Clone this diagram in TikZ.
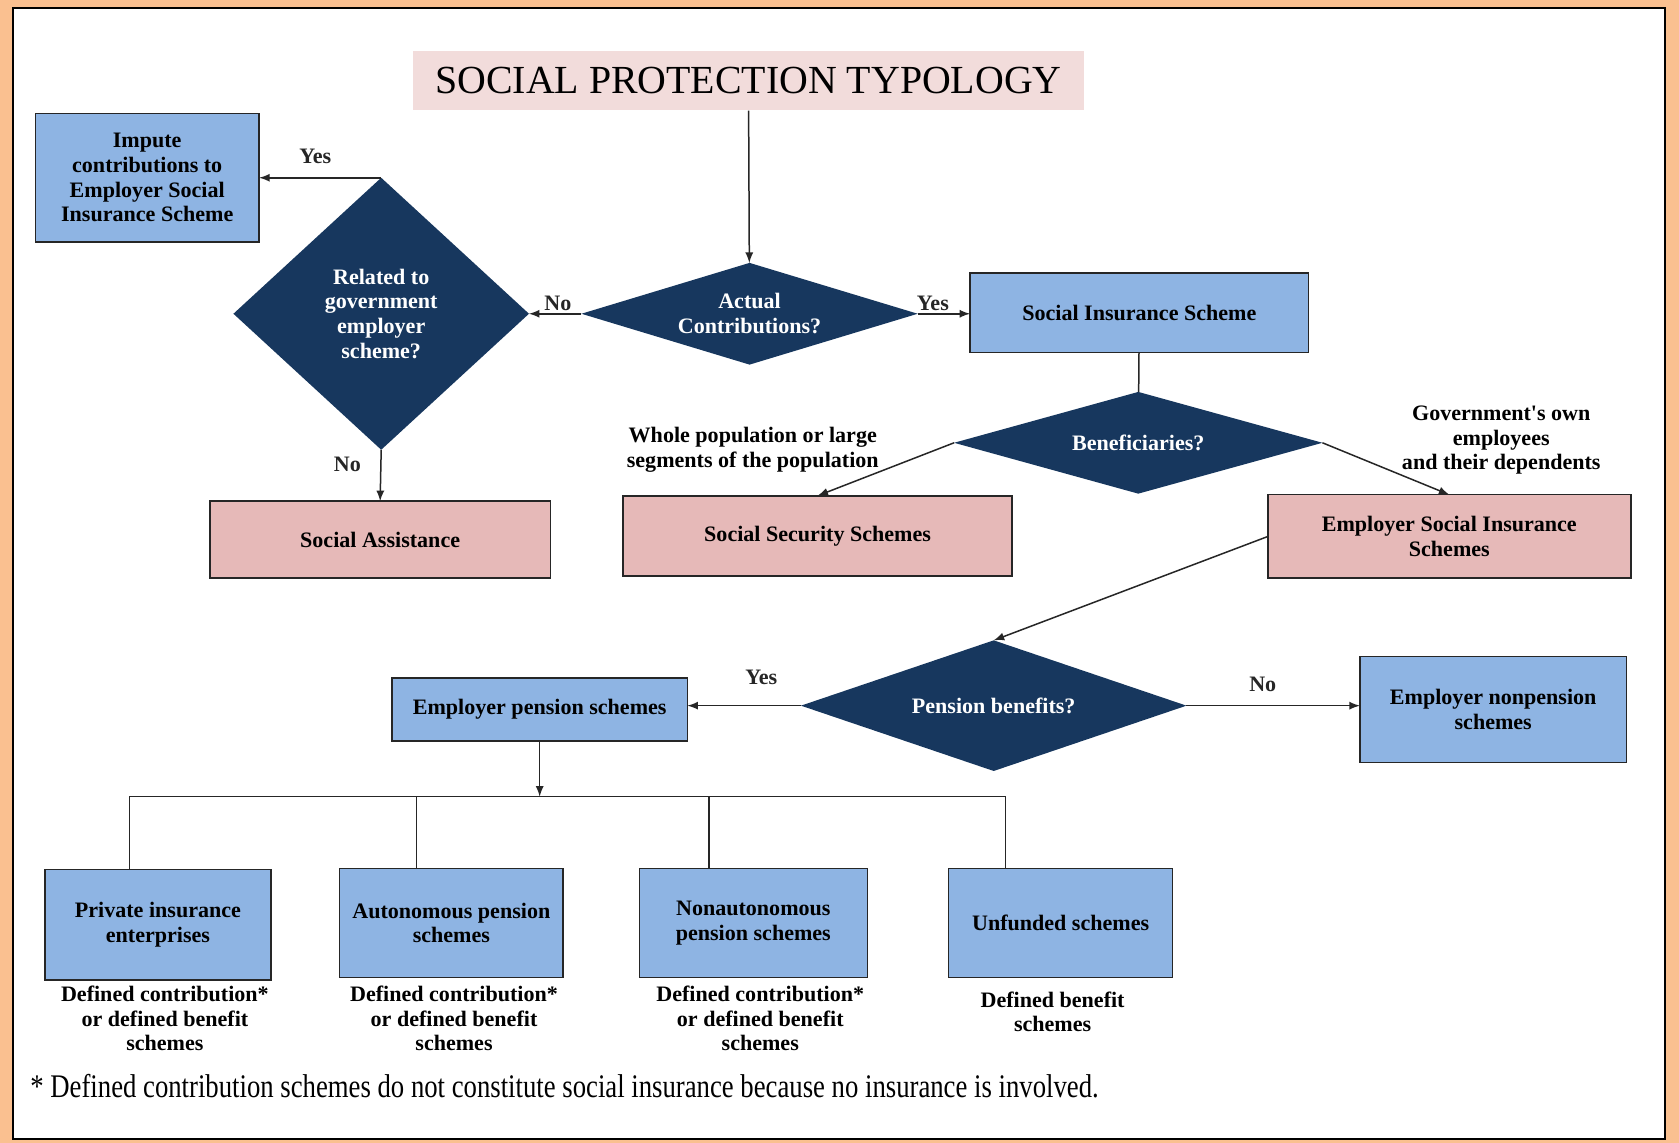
\documentclass[tikz,border=0pt]{standalone}
\usepackage{fontspec}
\setmainfont{Liberation Serif}
\newfontfamily\spnotefamily{Liberation Serif}[FakeStretch=0.81]
\usepackage{xcolor}
\usetikzlibrary{shapes.geometric,arrows,positioning,calc}

\definecolor{frameorange}{HTML}{FAC090}
\definecolor{boxblue}{HTML}{8EB4E3}
\definecolor{boxpink}{HTML}{E6B9B8}
\definecolor{titlepink}{HTML}{F2DCDB}
\definecolor{navy}{HTML}{17375E}

\newcommand{\spfont}{\fontsize{10.3}{11.5}\selectfont\bfseries}
\newcommand{\sptitlefont}{\fontsize{18.6}{22}\selectfont}
\newcommand{\spnotefont}{\spnotefamily\fontsize{15.4}{18}\selectfont}

\tikzset{
  box/.style={draw=black!85, line width=0.7pt, align=center, inner sep=2pt, outer sep=0pt, font=\spfont},
  bluebox/.style={box, fill=boxblue},
  pinkbox/.style={box, fill=boxpink},
  question/.style={diamond, fill=navy, text=white, align=center, inner sep=0pt, outer sep=0pt, font=\spfont},
  lbl/.style={align=center, inner sep=1pt, font=\spfont},
  link/.style={line width=0.7pt, black!85}
}

\begin{document}
\begin{tikzpicture}[>=latex, x=0.5pt, y=-0.5pt]
    \useasboundingbox (0,0) rectangle (1568,1067);
    % frame
    \fill[frameorange] (0,0) rectangle (1568,1067);
    \filldraw[fill=white, draw=black, line width=1pt] (12,7.5) rectangle (1555,1063.5);

    % title
    \node[fill=titlepink, minimum width=313pt, minimum height=27.5pt, inner sep=0pt, font=\sptitlefont] (title) at (699,75.5) {SOCIAL PROTECTION TYPOLOGY};

    % first questions
    \node[question, minimum width=157pt, minimum height=47.5pt, shape aspect=3.3] (actual) at (700,293) {Actual\\Contributions?};
    \node[question, minimum width=138pt, minimum height=127pt, shape aspect=1.09] (related) at (356,293) {Related to\\government\\employer\\scheme?};
    \node[bluebox, minimum width=158pt, minimum height=37pt] (sis) at (1064,292) {Social Insurance Scheme};
    \node[bluebox, minimum width=104.5pt, minimum height=60pt] (impute) at (137.5,166) {Impute\\contributions to\\Employer Social\\Insurance Scheme};
    \node[pinkbox, minimum width=159pt, minimum height=36pt] (assist) at (355,504) {Social Assistance};

    \draw[link, ->] (title) -- (actual);
    \draw[link, ->] (actual.east) -- node[lbl, above, pos=0.29] (yesA) {Yes} (actual.east -| sis.west);
    \draw[link, ->] (actual.west) -- node[lbl, above, pos=0.45] (noA) {No} (related.east);
    \draw[link, ->] (related.north) -- node[lbl, above=5pt, pos=0.54] (yesR) {Yes} (impute.east);
    \draw[link, ->] (related.south) -- node[lbl, left=8pt, pos=0.28] (noR) {No} (assist.north);

    % beneficiaries
    \node[question, minimum width=172pt, minimum height=47.5pt, shape aspect=3.6] (benef) at (1063,413.5) {Beneficiaries?};
    \node[pinkbox, minimum width=181.5pt, minimum height=37.5pt] (secur) at (763.5,500.5) {Social Security Schemes};
    \node[pinkbox, minimum width=169.5pt, minimum height=39pt] (esis) at (1353.5,501) {Employer Social Insurance\\Schemes};
    \node[lbl] (whole) at (703,420) {Whole population or large\\segments of the population};
    \node[lbl] (govown) at (1402,411) {Government\textquotesingle s own\\employees\\and their dependents};

    \draw[link] (sis) -- (benef);
    \draw[link, ->] (benef.west) -- (secur.north);
    \draw[link, ->] (benef.east) -- (esis.north);

    % pensions
    \node[question, minimum width=180pt, minimum height=61pt, shape aspect=2.95] (pens) at (928,659) {Pension benefits?};
    \node[bluebox, minimum width=138pt, minimum height=29.5pt] (epen) at (504,662.5) {Employer pension schemes};
    \node[bluebox, minimum width=124.5pt, minimum height=49.5pt] (enon) at (1394.5,662.5) {Employer nonpension\\schemes};

    \draw[link, ->] (esis.west) -- (pens.north);
    \draw[link, ->] (pens.west) -- node[lbl, above=8.5pt, pos=0.35] (yesP) {Yes} (pens.west -| epen.east);
    \draw[link, ->] (pens.east) -- node[lbl, above=5pt, pos=0.44] (noP) {No} (pens.east -| enon.west);

    % kinds of pension schemes
    \node[bluebox, minimum width=105.5pt, minimum height=51.5pt] (priv) at (147.5,863.5) {Private insurance\\enterprises};
    \node[bluebox, minimum width=104.5pt, minimum height=51pt] (auton) at (421.5,862) {Autonomous pension\\schemes};
    \node[bluebox, minimum width=106.5pt, minimum height=51pt] (nonaut) at (703.5,862) {Nonautonomous\\pension schemes};
    \node[bluebox, minimum width=104.5pt, minimum height=51pt] (unfund) at (990.5,862) {Unfunded schemes};

    \coordinate (bus) at (504,744);
    \draw[link, ->] (epen) -- (bus);
    \draw[link] ([xshift=-13.25pt]priv.north) |- (bus) -| ([xshift=-25.75pt]unfund.north);
    \draw[link] ([xshift=-16.25pt]auton.north) -- ([xshift=-16.25pt]auton.north |- bus);
    \draw[link] ([xshift=-20.75pt]nonaut.north) -- ([xshift=-20.75pt]nonaut.north |- bus);

    \node[lbl] (dcPriv) at (154,951) {Defined contribution*\\or defined benefit\\schemes};
    \node[lbl] (dcAuton) at (424,951) {Defined contribution*\\or defined benefit\\schemes};
    \node[lbl] (dcNonaut) at (710,951) {Defined contribution*\\or defined benefit\\schemes};
    \node[lbl] (dbUnfund) at (983,945) {Defined benefit\\schemes};

    % footnote
    \node[anchor=west, inner sep=0pt, font=\spnotefont] (note) at (28,1014) {* Defined contribution schemes do not constitute social insurance because no insurance is involved.};
\end{tikzpicture}
\end{document}
